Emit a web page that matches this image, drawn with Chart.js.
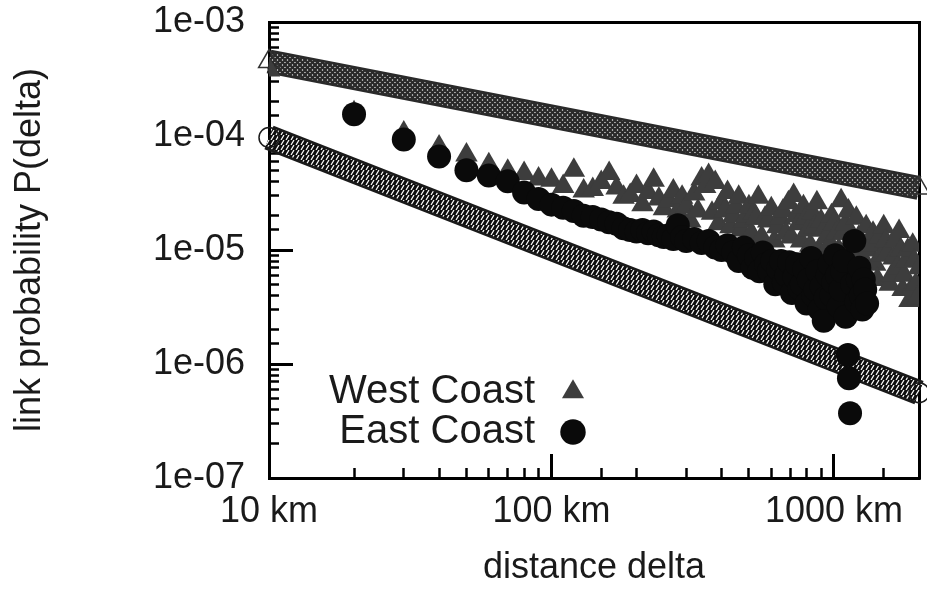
<!DOCTYPE html>
<html>
<head>
<meta charset="utf-8">
<script src="https://cdn.jsdelivr.net/npm/chart.js@4.4.1/dist/chart.umd.min.js"></script>
<style>
  html, body { margin: 0; padding: 0; background: #fff; }
  #grafico { display: block; }
</style>
</head>
<body>
<canvas id="grafico" width="927" height="598"></canvas>
<script>
// East Coast: distance bin (km) -> link probability
const eastKm = [20, 30, 40, 50, 60, 70, 80, 90, 100, 110,
    120, 130, 140, 150, 160, 170, 180, 190, 200, 210,
    220, 230, 240, 250, 260, 270, 280, 290, 300, 320,
    340, 360, 380, 400, 420, 440, 460, 480, 500, 515,
    530, 545, 560, 575, 590, 605, 620, 635, 650, 665,
    680, 695, 710, 725, 740, 755, 770, 785, 800, 815,
    830, 845, 860, 875, 890, 905, 920, 935, 950, 965,
    980, 995, 1010, 1025, 1040, 1055, 1070, 1085, 1100, 1120,
    1130, 1140, 1160, 1180, 1200, 1215, 1230, 1245, 1260, 1275,
    1290, 1310];
const eastProb = [1.55e-4, 9.3e-5, 6.6e-5, 5.0e-5, 4.5e-5, 4.0e-5, 3.2e-5, 2.8e-5, 2.5e-5, 2.35e-5,
    2.2e-5, 2.0e-5, 1.95e-5, 1.85e-5, 1.75e-5, 1.7e-5, 1.55e-5, 1.5e-5, 1.45e-5, 1.5e-5,
    1.4e-5, 1.45e-5, 1.35e-5, 1.3e-5, 1.35e-5, 1.25e-5, 1.65e-5, 1.3e-5, 1.2e-5, 1.25e-5,
    1.15e-5, 1.2e-5, 1.05e-5, 1.0e-5, 1.1e-5, 9.5e-6, 8.0e-6, 1.05e-5, 9.0e-6, 7.0e-6,
    8.5e-6, 6.5e-6, 9.5e-6, 7.5e-6, 6.5e-6, 8.0e-6, 5.0e-6, 6.8e-6, 8.0e-6, 5.2e-6,
    6.0e-6, 7.8e-6, 4.2e-6, 5.8e-6, 7.5e-6, 4.6e-6, 5.0e-6, 6.8e-6, 3.4e-6, 5.5e-6,
    8.5e-6, 4.0e-6, 4.5e-6, 6.5e-6, 3.0e-6, 4.8e-6, 2.4e-6, 3.8e-6, 6.0e-6, 7.5e-6,
    4.0e-6, 5.2e-6, 9.0e-6, 6.0e-6, 3.2e-6, 4.5e-6, 6.5e-6, 8.0e-6, 2.6e-6, 1.2e-6,
    7.5e-7, 3.7e-7, 5.0e-6, 1.2e-5, 3.5e-6, 5.5e-6, 7.0e-6, 4.0e-6, 3.0e-6, 5.5e-6,
    4.5e-6, 3.4e-6];

// West Coast: distance bin (km) -> link probability
const westKm = [10, 20, 30, 40, 50, 60, 70, 80, 90, 100,
    110, 120, 130, 140, 150, 160, 170, 180, 190, 200,
    210, 220, 230, 240, 250, 260, 270, 280, 290, 300,
    310, 320, 330, 340, 350, 360, 370, 380, 390, 400,
    410, 420, 430, 440, 450, 460, 470, 480, 490, 500,
    510, 520, 530, 540, 555, 570, 585, 600, 615, 630,
    645, 660, 675, 690, 705, 720, 735, 750, 765, 780,
    795, 810, 825, 840, 855, 870, 885, 900, 920, 940,
    960, 980, 1000, 1020, 1040, 1060, 1080, 1100, 1125, 1150,
    1175, 1200, 1225, 1250, 1275, 1300, 1325, 1350, 1375, 1400,
    1425, 1450, 1475, 1500, 1525, 1550, 1575, 1600, 1625, 1650,
    1675, 1700, 1725, 1750, 1775, 1800, 1825, 1850, 1875, 1900,
    1925, 1950, 1975, 2000];
const westProb = [3.8e-4, 1.6e-4, 1.06e-4, 8.0e-5, 6.8e-5, 5.6e-5, 4.9e-5, 4.7e-5, 4.2e-5, 4.1e-5,
    3.6e-5, 5.0e-5, 3.3e-5, 3.4e-5, 3.9e-5, 4.7e-5, 3.5e-5, 2.9e-5, 3.0e-5, 3.6e-5,
    2.5e-5, 3.2e-5, 4.1e-5, 2.8e-5, 2.3e-5, 2.7e-5, 3.3e-5, 2.2e-5, 2.9e-5, 2.4e-5,
    1.8e-5, 3.1e-5, 2.2e-5, 4.2e-5, 3.6e-5, 4.5e-5, 2.1e-5, 3.9e-5, 1.7e-5, 2.6e-5,
    2.2e-5, 3.2e-5, 1.6e-5, 2.0e-5, 2.4e-5, 2.9e-5, 1.5e-5, 1.8e-5, 2.0e-5, 2.4e-5,
    1.4e-5, 2.1e-5, 1.9e-5, 2.9e-5, 1.3e-5, 1.9e-5, 1.8e-5, 2.3e-5, 1.2e-5, 1.6e-5,
    1.9e-5, 2.2e-5, 1.4e-5, 2.6e-5, 1.3e-5, 3.0e-5, 2.0e-5, 1.7e-5, 1.2e-5, 2.4e-5,
    1.9e-5, 1.5e-5, 1.1e-5, 2.1e-5, 1.6e-5, 2.6e-5, 1.0e-5, 1.8e-5, 1.5e-5, 1.3e-5,
    1.1e-5, 2.0e-5, 1.7e-5, 1.4e-5, 1.0e-5, 2.7e-5, 1.4e-5, 1.7e-5, 2.2e-5, 1.2e-5,
    8.0e-6, 1.9e-5, 1.3e-5, 9.0e-6, 6.5e-6, 1.6e-5, 1.0e-5, 1.1e-5, 1.4e-5, 7.5e-6,
    5.5e-6, 1.3e-5, 9.0e-6, 1.6e-5, 1.2e-5, 9.5e-6, 5.0e-6, 6.0e-6, 8.5e-6, 1.2e-5,
    7.0e-6, 1.45e-5, 1.0e-5, 4.5e-6, 6.0e-6, 8.0e-6, 1.0e-5, 3.6e-6, 4.5e-6, 1.1e-5,
    8.0e-6, 5.0e-6, 3.8e-6, 7.0e-6];

// power-law fits, drawn between their end points
const fitKm = [10, 2000];
const westFitProb = [4.5e-4, 3.5e-5];
const eastFitProb = [9.7e-5, 5.6e-7];

const xMajor = [10, 100, 1000];
const xTickLabels = ['10 km', '100 km', '1000 km'];
const yMajor = [1e-7, 1e-6, 1e-5, 1e-4, 1e-3];
const yTickLabels = ['1e-07', '1e-06', '1e-05', '1e-04', '1e-03'];

const FONTE = "'Liberation Sans', Arial, Helvetica, sans-serif";
const TEXTO = '#1a1a1a';
Chart.defaults.font.family = FONTE;

const pontos = (xs, ys) => xs.map((x, i) => ({ x: x, y: ys[i] }));

function rotulo(valor, marcas, textos) {
    const i = marcas.findIndex(m => Math.abs(Math.log10(valor) - Math.log10(m)) < 1e-6);
    return i >= 0 ? textos[i] : '';
}
const ehDecada = (v) => Math.abs(Math.log10(v) - Math.round(Math.log10(v))) < 1e-6;

// hatched strokes that stand in for the dense trail of hollow markers
function hachura(tam, desenho) {
    const c = document.createElement('canvas');
    c.width = c.height = tam;
    const g = c.getContext('2d');
    desenho(g, tam);
    return g.createPattern(c, 'repeat');
}
const hachuraTriangulo = hachura(5, (g, s) => {
    g.fillStyle = '#fff';
    g.fillRect(0, 0, s, s);
    g.strokeStyle = '#2a2a2a';
    g.lineWidth = 2.3;
    g.beginPath();
    g.moveTo(0, 0); g.lineTo(s, s);
    g.moveTo(s, 0); g.lineTo(0, s);
    g.stroke();
});
const hachuraCirculo = hachura(5, (g, s) => {
    g.fillStyle = '#0e0e0e';
    g.fillRect(0, 0, s, s);
    g.strokeStyle = '#fff';
    g.lineWidth = 1.2;
    g.beginPath();
    g.moveTo(1, s); g.lineTo(4, 0);
    g.stroke();
});

// moves the legend to the lower left corner of the plot
const legendaDentro = {
    id: 'legendaDentro',
    afterLayout(chart) {
        const lg = chart.legend;
        const area = chart.chartArea;
        lg.left = area.left + 50;
        lg.top = area.top;
        lg.bottom = area.bottom - 26;
    }
};

const eixoLog = (min, max) => ({ type: 'logarithmic', min: min, max: max });
const semFolgaX = (s, h) => { s.height = h; s.paddingLeft = 0; s.paddingRight = 0; };
const semFolgaY = (s, w) => { s.width = w; s.paddingTop = 0; s.paddingBottom = 0; };

new Chart(document.getElementById('grafico'), {
    type: 'scatter',
    data: {
        datasets: [
            {
                label: 'East Coast',
                data: pontos(eastKm, eastProb),
                pointStyle: 'circle',
                pointRadius: 12,
                pointBorderWidth: 0,
                backgroundColor: '#0a0a0a',
                borderColor: '#0a0a0a'
            },
            {
                label: 'West Coast',
                data: pontos(westKm, westProb),
                pointStyle: 'triangle',
                pointRadius: 13,
                pointBorderWidth: 0,
                backgroundColor: '#3d3d3d',
                borderColor: '#3d3d3d'
            },
            {
                label: 'fit east',
                data: pontos(fitKm, eastFitProb),
                showLine: true,
                borderColor: hachuraCirculo,
                borderWidth: 20,
                pointStyle: 'circle',
                pointRadius: 10,
                pointBorderWidth: 1.5,
                pointBorderColor: '#1a1a1a',
                pointBackgroundColor: 'rgba(0,0,0,0)',
                clip: false
            },
            {
                label: 'fit east edge',
                data: pontos(fitKm, eastFitProb),
                showLine: true,
                borderColor: '#1a1a1a',
                borderWidth: 25,
                pointRadius: 0,
                clip: false
            },
            {
                label: 'fit west',
                data: pontos(fitKm, westFitProb),
                showLine: true,
                borderColor: hachuraTriangulo,
                borderWidth: 19,
                pointStyle: 'triangle',
                pointRadius: 12,
                pointBorderWidth: 1.5,
                pointBorderColor: '#333',
                pointBackgroundColor: 'rgba(0,0,0,0)',
                clip: false
            },
            {
                label: 'fit west edge',
                data: pontos(fitKm, westFitProb),
                showLine: true,
                borderColor: '#2a2a2a',
                borderWidth: 24,
                pointRadius: 0,
                clip: false
            }
        ]
    },
    options: {
        responsive: false,
        animation: false,
        devicePixelRatio: 1,
        layout: { autoPadding: false, padding: { top: 22, right: 8, bottom: 0, left: 0 } },
        plugins: {
            tooltip: { enabled: false },
            legend: {
                position: 'chartArea',
                align: 'end',
                rtl: true,
                textDirection: 'ltr',
                reverse: true,
                labels: {
                    filter: (item) => item.datasetIndex < 2,
                    usePointStyle: true,
                    boxWidth: 36,
                    boxHeight: 18,
                    padding: 0,
                    color: TEXTO,
                    font: { size: 40, lineHeight: 1.0 }
                }
            }
        },
        scales: {
            x: {
                ...eixoLog(10, 2000),
                position: 'bottom',
                weight: 1,
                border: { color: '#000', width: 3 },
                grid: { drawOnChartArea: false, color: '#000', tickLength: -10, tickWidth: 2.5 },
                ticks: {
                    autoSkip: false, maxRotation: 0, padding: 22, color: TEXTO,
                    font: { size: 36 },
                    callback: (v) => rotulo(v, xMajor, xTickLabels)
                },
                title: {
                    display: true, text: 'distance delta', color: TEXTO,
                    font: { size: 36 }, padding: { top: 0, bottom: 8 }
                },
                afterFit: (s) => semFolgaX(s, 120)
            },
            xMaior: {
                ...eixoLog(10, 2000),
                position: 'bottom',
                weight: 0,
                border: { display: false },
                grid: { drawOnChartArea: false, color: '#000', tickLength: -24, tickWidth: 3 },
                ticks: { display: false },
                afterBuildTicks: (s) => { s.ticks = s.ticks.filter(t => ehDecada(t.value)); },
                afterFit: (s) => semFolgaX(s, 0)
            },
            xTopo: {
                ...eixoLog(10, 2000),
                position: 'top',
                border: { color: '#000', width: 3 },
                grid: { drawOnChartArea: false, drawTicks: false },
                ticks: { display: false },
                afterFit: (s) => semFolgaX(s, 0)
            },
            y: {
                ...eixoLog(1e-7, 1e-3),
                position: 'left',
                weight: 1,
                border: { color: '#000', width: 3 },
                grid: { drawOnChartArea: false, color: '#000', tickLength: -10, tickWidth: 2.5 },
                ticks: {
                    autoSkip: false, padding: 34, color: TEXTO,
                    font: { size: 36 },
                    callback: (v) => rotulo(v, yMajor, yTickLabels)
                },
                title: {
                    display: true, text: 'link probability P(delta)', color: TEXTO,
                    font: { size: 36 }, padding: { top: 8, bottom: 0 }
                },
                afterFit: (s) => semFolgaY(s, 269)
            },
            yMaior: {
                ...eixoLog(1e-7, 1e-3),
                position: 'left',
                weight: 0,
                border: { display: false },
                grid: { drawOnChartArea: false, color: '#000', tickLength: -24, tickWidth: 3 },
                ticks: { display: false },
                afterBuildTicks: (s) => { s.ticks = s.ticks.filter(t => ehDecada(t.value)); },
                afterFit: (s) => semFolgaY(s, 0)
            },
            yDireita: {
                ...eixoLog(1e-7, 1e-3),
                position: 'right',
                border: { color: '#000', width: 3 },
                grid: { drawOnChartArea: false, drawTicks: false },
                ticks: { display: false },
                afterFit: (s) => semFolgaY(s, 0)
            }
        }
    },
    plugins: [legendaDentro]
});
</script>
</body>
</html>
